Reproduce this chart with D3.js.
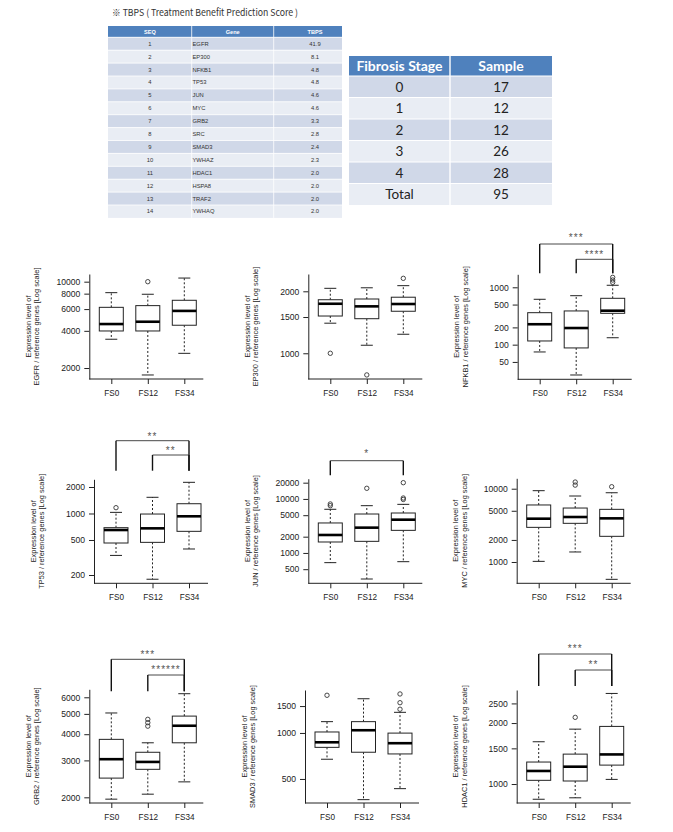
<!DOCTYPE html>
<html><head><meta charset="utf-8">
<script src="https://cdn.jsdelivr.net/npm/d3@7"></script>
<style>body{margin:0;background:#fff} svg{display:block}</style>
</head><body>
<svg id="c" width="673" height="832"></svg>
<script>
// ---------------- data ----------------
const tbpsSeq = [1,2,3,4,5,6,7,8,9,10,11,12,13,14];
const tbpsGenes = ["EGFR","EP300","NFKB1","TP53","JUN","MYC","GRB2","SRC","SMAD3","YWHAZ","HDAC1","HSPA8","TRAF2","YWHAQ"];
const tbpsScores = ["41.9","8.1","4.8","4.8","4.6","4.6","3.3","2.8","2.4","2.3","2.0","2.0","2.0","2.0"];
const tbpsHeader = ["SEQ","Gene","TBPS"];

const stageHeader = ["Fibrosis Stage","Sample"];
const stageLabels = ["0","1","2","3","4","Total"];
const stageSamples = [17,12,12,26,28,95];

const groups = ["FS0","FS12","FS34"];
const genes = ["EGFR","EP300","NFKB1","TP53","JUN","MYC","GRB2","SMAD3","HDAC1"];

// [lower whisker, Q1, median, Q3, upper whisker] per group
const statsEGFR  = [[3420,3990,4540,6200,8150],[1757,3990,4740,6400,7910],[2630,4440,5800,7070,10700]];
const statsEP300 = [[1400,1517,1740,1820,2068],[1094,1472,1690,1835,2080],[1237,1600,1735,1872,2130]];
const statsNFKB1 = [[74.6,116,227,361,618],[29.6,87.7,195,387,714],[132,352,391,643,1085]];
const statsTP53  = [[334,462,649,690,1030],[179,470,678,986,1527],[395,627,929,1291,2260]];
const statsJUN   = [[661,1595,2150,3590,6430],[329,1640,2940,5260,7500],[689,2620,4130,5490,7940]];
const statsMYC   = [[1020,2970,3900,6000,9400],[1370,3370,4110,5450,7950],[580,2240,3940,5230,8810]];
const statsGRB2  = [[1960,2470,3040,3780,5050],[2070,2720,2950,3280,3640],[2370,3640,4390,4880,6240]];
const statsSMAD3 = [[673,805,869,1015,1186],[366,748,1042,1186,1675],[432,729,857,998,1365]];
const statsHDAC1 = [[841,1043,1160,1284,1617],[855,1035,1218,1405,1866],[1054,1240,1400,1925,2800]];

const outEGFR  = [[],[10000],[]];
const outEP300 = [[1000],[785],[2312]];
const outNFKB1 = [[],[],[1220,1340,1490]];
const outTP53  = [[1164],[],[]];
const outJUN   = [[7500,8070],[15740],[9780,10400,20000]];
const outMYC   = [[],[11200,12330],[10640]];
const outGRB2  = [[],[4370,4540,4710],[]];
const outSMAD3 = [[1765],[],[1430,1578,1800]];
const outHDAC1 = [[],[2134],[]];

const ticksEGFR  = [2000,4000,6000,8000,10000];
const ticksEP300 = [1000,1500,2000];
const ticksNFKB1 = [50,100,200,500,1000];
const ticksTP53  = [200,500,1000,2000];
const ticksJUN   = [500,1000,2000,5000,10000,20000];
const ticksMYC   = [1000,2000,5000,10000];
const ticksGRB2  = [2000,3000,4000,5000,6000];
const ticksSMAD3 = [500,1000,1500];
const ticksHDAC1 = [1000,1500,2000,2500];

const sigEGFR = [], sigEP300 = [], sigMYC = [], sigSMAD3 = [];
const sigNFKB1 = [["FS0","FS34","***"],["FS12","FS34","****"]];
const sigTP53  = [["FS0","FS34","**"],["FS12","FS34","**"]];
const sigJUN   = [["FS0","FS34","*"]];
const sigGRB2  = [["FS0","FS34","***"],["FS12","FS34","******"]];
const sigHDAC1 = [["FS0","FS34","***"],["FS12","FS34","**"]];

const allStats = [statsEGFR,statsEP300,statsNFKB1,statsTP53,statsJUN,statsMYC,statsGRB2,statsSMAD3,statsHDAC1];
const allOut = [outEGFR,outEP300,outNFKB1,outTP53,outJUN,outMYC,outGRB2,outSMAD3,outHDAC1];
const allTicks = [ticksEGFR,ticksEP300,ticksNFKB1,ticksTP53,ticksJUN,ticksMYC,ticksGRB2,ticksSMAD3,ticksHDAC1];
const allSig = [sigEGFR,sigEP300,sigNFKB1,sigTP53,sigJUN,sigMYC,sigGRB2,sigSMAD3,sigHDAC1];

// ---------------- layout ----------------
const layout = [
  {x:89.3,  top:274,   bottom:379,   dom:[1630,11540]},
  {x:308.3, top:274,   bottom:379,   dom:[750,2427]},
  {x:517.7, top:274.3, bottom:379.3, dom:[24.9,1685], br:[244,259.3], tx:[236,252.7], vEnd:273.3},
  {x:94,    top:479.3, bottom:583.3, dom:[161,2446], br:[440.7,455], tx:[435,449.3], vEnd:470.7},
  {x:308.3, top:478.7, bottom:583.3, dom:[274,23700], br:[460.7], tx:[452.3], vEnd:475.3},
  {x:516.7, top:478.3, bottom:583.3, dom:[512,13870]},
  {x:89.3,  top:689.3, bottom:803,   dom:[1879,6550], br:[659.3,675], tx:[652.7,668.3], vEnd:691.3},
  {x:305,   top:690,   bottom:803,   dom:[348,1911]},
  {x:516.7, top:690,   bottom:803,   dom:[806,2912], br:[654,670], tx:[647.3,663.3], vEnd:686}
];

const svg = d3.select("#c");
const FONT = "'Liberation Sans', Arial, sans-serif";

// ---------------- table 1 ----------------
svg.append("text").attr("x",112).attr("y",16.2)
  .attr("font-family","'Noto Sans CJK KR','Noto Sans',sans-serif").attr("font-size",9.4)
  .attr("fill","#333").attr("textLength",186).attr("lengthAdjust","spacingAndGlyphs")
  .text("※ TBPS ( Treatment Benefit Prediction Score )");

const t1Cols = [108,191.7,273.7,342];
const t1Top = 26, t1HeadH = 11.3, t1RowH = 12.9;
const t1 = svg.append("g");
t1.append("rect").attr("x",108).attr("y",t1Top).attr("width",234).attr("height",t1HeadH).attr("fill","#4f81bd");
const t1Rows = tbpsSeq.map((s,i)=>({seq:s, gene:tbpsGenes[i], score:tbpsScores[i], i}));
t1.selectAll("rect.row").data(t1Rows).join("rect").attr("class","row")
  .attr("x",108).attr("y",d=>t1Top+t1HeadH+d.i*t1RowH).attr("width",234).attr("height",t1RowH)
  .attr("fill",d=>d.i%2===0?"#d0d8e8":"#e9edf4");
t1.selectAll("line.h").data(t1Rows).join("line").attr("class","h")
  .attr("x1",108).attr("x2",342).attr("y1",d=>t1Top+t1HeadH+d.i*t1RowH).attr("y2",d=>t1Top+t1HeadH+d.i*t1RowH)
  .attr("stroke","#fff").attr("stroke-width",0.8);
[t1Cols[1],t1Cols[2]].forEach(cx=>{
  t1.append("line").attr("x1",cx).attr("x2",cx).attr("y1",t1Top).attr("y2",t1Top+t1HeadH+14*t1RowH)
    .attr("stroke","#fff").attr("stroke-width",0.8);
});
const t1Centers = [149.9,232.7,315];
t1.selectAll("text.hd").data(tbpsHeader).join("text").attr("class","hd")
  .attr("x",(d,i)=>t1Centers[i]).attr("y",t1Top+t1HeadH/2).attr("dy","0.35em")
  .attr("text-anchor","middle").attr("font-family",FONT).attr("font-size",5.6).attr("font-weight","bold")
  .attr("fill","#fff").text(d=>d);
const rowY = d=>t1Top+t1HeadH+d.i*t1RowH+t1RowH/2;
t1.selectAll("text.seq").data(t1Rows).join("text").attr("class","seq")
  .attr("x",t1Centers[0]).attr("y",rowY).attr("dy","0.35em").attr("text-anchor","middle")
  .attr("font-family",FONT).attr("font-size",5.8).attr("fill","#333").text(d=>d.seq);
t1.selectAll("text.gene").data(t1Rows).join("text").attr("class","gene")
  .attr("x",192.5).attr("y",rowY).attr("dy","0.35em")
  .attr("font-family",FONT).attr("font-size",5.8).attr("fill","#333").text(d=>d.gene);
t1.selectAll("text.score").data(t1Rows).join("text").attr("class","score")
  .attr("x",t1Centers[2]).attr("y",rowY).attr("dy","0.35em").attr("text-anchor","middle")
  .attr("font-family",FONT).attr("font-size",5.8).attr("fill","#333").text(d=>d.score);

// ---------------- table 2 ----------------
const t2 = svg.append("g");
const t2L = 349, t2M = 450, t2R = 552, t2Top = 56, t2HeadH = 20, t2RowH = 21.5;
t2.append("rect").attr("x",t2L).attr("y",t2Top).attr("width",t2R-t2L).attr("height",t2HeadH).attr("fill","#4f81bd");
const t2Rows = stageLabels.map((s,i)=>({stage:s, n:stageSamples[i], i}));
t2.selectAll("rect.row").data(t2Rows).join("rect").attr("class","row")
  .attr("x",t2L).attr("y",d=>t2Top+t2HeadH+d.i*t2RowH).attr("width",t2R-t2L).attr("height",t2RowH)
  .attr("fill",d=>d.i%2===0?"#d0d8e8":"#e9edf4");
t2.selectAll("line.h").data(t2Rows).join("line").attr("class","h")
  .attr("x1",t2L).attr("x2",t2R).attr("y1",d=>t2Top+t2HeadH+d.i*t2RowH).attr("y2",d=>t2Top+t2HeadH+d.i*t2RowH)
  .attr("stroke","#fff").attr("stroke-width",1.2);
t2.append("line").attr("x1",t2M).attr("x2",t2M).attr("y1",t2Top).attr("y2",t2Top+t2HeadH+6*t2RowH)
  .attr("stroke","#fff").attr("stroke-width",1.4);
const t2C = [(t2L+t2M)/2,(t2M+t2R)/2];
t2.selectAll("text.hd").data(stageHeader).join("text").attr("class","hd")
  .attr("x",(d,i)=>t2C[i]).attr("y",t2Top+t2HeadH/2).attr("dy","0.36em").attr("text-anchor","middle")
  .attr("font-family","Lato, 'Open Sans', sans-serif").attr("font-size",14).attr("font-weight","bold")
  .attr("fill","#fff").text(d=>d);
t2.selectAll("text.st").data(t2Rows).join("text").attr("class","st")
  .attr("x",t2C[0]).attr("y",d=>t2Top+t2HeadH+d.i*t2RowH+t2RowH/2).attr("dy","0.36em").attr("text-anchor","middle")
  .attr("font-family","Lato, 'Open Sans', sans-serif").attr("font-size",13.5).attr("fill","#222").text(d=>d.stage);
t2.selectAll("text.n").data(t2Rows).join("text").attr("class","n")
  .attr("x",t2C[1]).attr("y",d=>t2Top+t2HeadH+d.i*t2RowH+t2RowH/2).attr("dy","0.36em").attr("text-anchor","middle")
  .attr("font-family","Lato, 'Open Sans', sans-serif").attr("font-size",13.5).attr("fill","#222").text(d=>d.n);

// ---------------- box plots ----------------
genes.forEach((gene,k)=>{
  const p = layout[k], stats = allStats[k], outs = allOut[k], ticks = allTicks[k], sig = allSig[k];
  const g = svg.append("g");
  const y = d3.scaleLog().domain(p.dom).range([p.bottom,p.top]);
  const x = d3.scalePoint().domain(groups).range([p.x+22,p.x+95]);

  const ya = g.append("g").attr("transform",`translate(${p.x},0)`)
    .call(d3.axisLeft(y).tickValues(ticks).tickFormat(d3.format("d")).tickSize(5).tickSizeOuter(0).tickPadding(4));
  ya.attr("font-family",FONT).attr("font-size",8.6);
  ya.selectAll("path,line").attr("stroke","#222");
  ya.selectAll("text").attr("fill","#222");

  g.append("line").attr("x1",p.x).attr("x2",p.x+114).attr("y1",p.bottom).attr("y2",p.bottom)
    .attr("stroke","#222");
  const xa = g.append("g").attr("transform",`translate(0,${p.bottom})`)
    .call(d3.axisBottom(x).tickSize(5).tickSizeOuter(0).tickPadding(6));
  xa.select(".domain").remove();
  xa.attr("font-family",FONT).attr("font-size",8.2);
  xa.selectAll("line").attr("stroke","#222");
  xa.selectAll("text").attr("fill","#222");

  const cy = (p.top+p.bottom)/2;
  g.append("text").attr("transform",`translate(${p.x-61},${cy}) rotate(-90)`)
    .attr("text-anchor","middle").attr("dominant-baseline","central")
    .attr("font-family",FONT).attr("font-size",7.4).attr("fill","#222").text("Expression level of");
  g.append("text").attr("transform",`translate(${p.x-52.5},${cy}) rotate(-90)`)
    .attr("text-anchor","middle").attr("dominant-baseline","central")
    .attr("font-family",FONT).attr("font-size",7.4).attr("fill","#222").text(`${gene} / reference genes [Log scale]`);

  const bw = 12, cw = 6;
  const bx = g.selectAll("g.box").data(stats.map((s,i)=>({s, grp:groups[i], out:outs[i]}))).join("g");
  bx.append("line").attr("x1",d=>x(d.grp)).attr("x2",d=>x(d.grp)).attr("y1",d=>y(d.s[3])).attr("y2",d=>y(d.s[4]))
    .attr("stroke","#222").attr("stroke-dasharray","2,2");
  bx.append("line").attr("x1",d=>x(d.grp)).attr("x2",d=>x(d.grp)).attr("y1",d=>y(d.s[1])).attr("y2",d=>y(d.s[0]))
    .attr("stroke","#222").attr("stroke-dasharray","2,2");
  [0,4].forEach(j=>{
    bx.append("line").attr("x1",d=>x(d.grp)-cw).attr("x2",d=>x(d.grp)+cw).attr("y1",d=>y(d.s[j])).attr("y2",d=>y(d.s[j]))
      .attr("stroke","#222");
  });
  bx.append("rect").attr("x",d=>x(d.grp)-bw).attr("width",2*bw)
    .attr("y",d=>y(d.s[3])).attr("height",d=>y(d.s[1])-y(d.s[3]))
    .attr("fill","#fff").attr("stroke","#222").attr("stroke-width",1);
  bx.append("line").attr("x1",d=>x(d.grp)-bw).attr("x2",d=>x(d.grp)+bw).attr("y1",d=>y(d.s[2])).attr("y2",d=>y(d.s[2]))
    .attr("stroke","#000").attr("stroke-width",2.6);
  bx.selectAll("circle").data(d=>d.out.map(v=>({v,grp:d.grp}))).join("circle")
    .attr("cx",d=>x(d.grp)).attr("cy",d=>y(d.v)).attr("r",2.2)
    .attr("fill","none").attr("stroke","#333").attr("stroke-width",0.9);

  sig.forEach((s,j)=>{
    const yb = p.br[j], x1 = x(s[0]), x2 = x(s[1]);
    g.append("line").attr("x1",x1).attr("x2",x2).attr("y1",yb).attr("y2",yb).attr("stroke","#333").attr("stroke-width",0.9);
    [x1,x2].forEach(xx=>g.append("line").attr("x1",xx).attr("x2",xx).attr("y1",yb).attr("y2",p.vEnd)
      .attr("stroke","#111").attr("stroke-width",1.4));
    g.append("text").attr("x",(x1+x2)/2).attr("y",p.tx[j]+4.8).attr("text-anchor","middle")
      .attr("font-family",FONT).attr("font-size",10).attr("letter-spacing",1).attr("fill","#555").text(s[2]);
  });
});
</script>
</body></html>
